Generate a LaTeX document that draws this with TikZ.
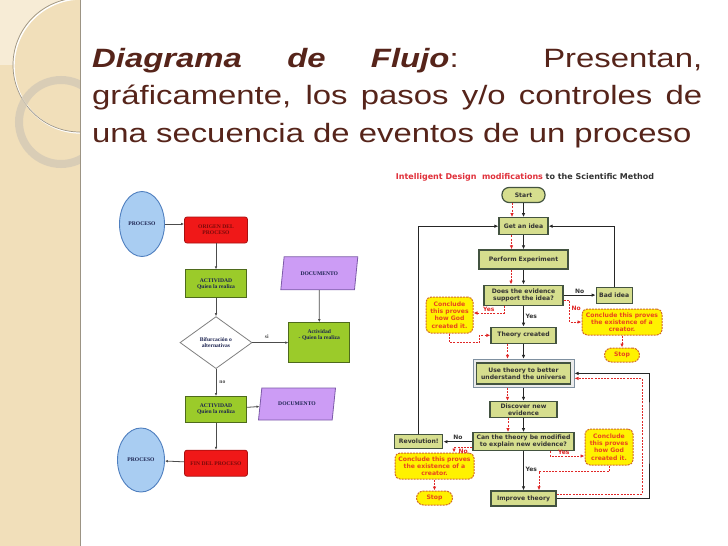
\documentclass[tikz,border=0pt]{standalone}
\usepackage{fontspec}
\newfontfamily\slidefont{Liberation Sans}[FakeStretch=1.24]
\newfontfamily\verdfont{DejaVu Sans}
\newfontfamily\leftfont{Liberation Serif}
\usetikzlibrary{arrows.meta, positioning, shapes.geometric}

\definecolor{stripbg}{HTML}{F1DFBA}
\definecolor{striplt}{HTML}{F7ECD6}
\definecolor{stripln}{HTML}{9C9484}
\definecolor{ringcol}{HTML}{D3C9B6}
\definecolor{titlecol}{HTML}{56241A}
\definecolor{procfill}{HTML}{A9CDF2}
\definecolor{procdraw}{HTML}{4F7FBF}
\definecolor{redfill}{HTML}{F01818}
\definecolor{reddraw}{HTML}{A81010}
\definecolor{redtext}{HTML}{7A0A0A}
\definecolor{actfill}{HTML}{9BCB2A}
\definecolor{actdraw}{HTML}{4E6A1C}
\definecolor{docfill}{HTML}{CC9CF5}
\definecolor{docdraw}{HTML}{7C5AA8}
\definecolor{lefttext}{HTML}{1C2350}
\definecolor{boxfill}{HTML}{D6DE8E}
\definecolor{boxdraw}{HTML}{435340}
\definecolor{boxtext}{HTML}{333333}
\definecolor{idred}{HTML}{E0303A}
\definecolor{ylfill}{HTML}{FFF200}
\definecolor{yldraw}{HTML}{D06828}
\definecolor{yltext}{HTML}{E8461E}
\definecolor{dashred}{HTML}{E02828}
\definecolor{usedraw}{HTML}{7F90A0}

\begin{document}
\begin{tikzpicture}[x=1pt, y=-1pt,
  % left chart
  lbase/.style={font=\leftfont\bfseries\fontsize{5.6}{6.2}\selectfont, text=lefttext,
                align=center, inner sep=1pt},
  proc/.style={lbase, ellipse, draw=procdraw, fill=procfill, line width=0.9pt},
  redbox/.style={lbase, draw=reddraw, fill=redfill, rounded corners=2.5pt,
                 line width=0.8pt, text=redtext},
  act/.style={lbase, draw=actdraw, fill=actfill, line width=0.8pt},
  doc/.style={lbase, trapezium, trapezium left angle=72, trapezium right angle=108,
              trapezium stretches=true, draw=docdraw, fill=docfill, line width=0.8pt},
  bifur/.style={lbase, diamond, draw=gray, fill=white, line width=0.8pt},
  larr/.style={-{Latex[length=3pt,width=2.6pt]}, line width=0.8pt, draw=black!70},
  % right chart
  gbox/.style={draw=boxdraw, fill=boxfill, line width=1.2pt, text=boxtext,
               font=\verdfont\bfseries\fontsize{6.1}{7.2}\selectfont,
               align=center, inner sep=1pt},
  term/.style={gbox, rounded corners=7pt},
  ybox/.style={draw=yldraw, fill=ylfill, dash pattern=on 2pt off 1pt, line width=1pt,
               rounded corners=5pt, text=yltext,
               font=\verdfont\bfseries\fontsize{6.1}{7.2}\selectfont,
               align=center, inner sep=1pt},
  stopbox/.style={ybox, rounded corners=7pt},
  blk/.style={-{Latex[length=4pt,width=3.5pt]}, line width=1pt, draw=black!85},
  rdash/.style={-{Latex[length=4pt,width=3.5pt]}, line width=0.8pt, draw=dashred,
                dash pattern=on 2pt off 1.2pt},
  yn/.style={font=\verdfont\bfseries\fontsize{6}{6}\selectfont, text=boxtext, inner sep=1.5pt},
  ynr/.style={yn, text=dashred}
]
\useasboundingbox (0,0) rectangle (728,546);
\fill[white] (0,0) rectangle (728,546);

% slide strip
\fill[stripbg] (0,0) rectangle (80,546);
\begin{scope}
  \clip (0,0) rectangle (80,546);
  \fill[striplt] (0,0) rectangle (80,65);
  \fill[stripbg] (80,65) circle[radius=67];
  \draw[white, line width=1.4pt] (81,66) circle[radius=67];
  \draw[stripln, line width=0.7pt] (80,65) circle[radius=67];
  \draw[ringcol, opacity=0.8, line width=8pt] (61,122) circle[radius=42];
\end{scope}
\draw[stripln, line width=1.5pt] (80.5,0) -- (80.5,546);

% slide title
\node[anchor=north west, inner sep=0pt, text width=610pt, align=justify, text=titlecol,
      font=\slidefont\fontsize{26.5}{37.5}\selectfont] (slidetitle) at (92,48)
  {\textbf{\textit{Diagrama de Flujo}}: Presentan,\linebreak
   gráficamente, los pasos y/o controles de\linebreak
   una secuencia de eventos de un proceso};

% left flowchart
\node[proc, minimum width=45, minimum height=65] (procA) at (142,224) {PROCESO};
\node[redbox, minimum width=63, minimum height=26] (origen) at (216,230) {ORIGEN DEL\\PROCESO};
\node[act, minimum width=61, minimum height=28, below=26pt of origen] (actA) {ACTIVIDAD\\Quien la realiza};
\node[bifur, minimum width=72, minimum height=52, below=18pt of actA] (bifurc) {Bifurcación o\\alternativas};
\node[act, minimum width=61, minimum height=40, right=36pt of bifurc] (actB) {Actividad\\- Quien la realiza\\[10pt]\mbox{}};
\node[doc, minimum width=77, minimum height=33, above=32pt of actB] (docA) {DOCUMENTO};
\node[act, minimum width=61, minimum height=26, below=27pt of bifurc] (actC) {ACTIVIDAD\\Quien la realiza};
\node[doc, minimum width=77, minimum height=32] (docB) at (297,404) {DOCUMENTO};
\node[redbox, minimum width=63, minimum height=26, below=27pt of actC] (fin) {FIN DEL PROCESO};
\node[proc, minimum width=47, minimum height=64] (procB) at (141,460) {PROCESO};

\draw[larr] (procA.east) -- (procA.east -| origen.west);
\draw[larr] (origen) -- (actA);
\draw[larr] (actA) -- (bifurc);
\draw[larr] (bifurc) -- node[lbase, above=3pt, pos=0.4, text=black!70] {si} (actB);
\draw[larr] (docA) -- (actB);
\draw[larr] (bifurc) -- node[lbase, right=2pt, text=black!70] {no} (actC);
\draw[larr] (actC) -- (docB);
\draw[larr] (actC) -- (fin);
\draw[larr] (fin) -- (procB);

% right flowchart
\node[font=\verdfont\bfseries\fontsize{8}{8}\selectfont, text=boxtext] (idtitle) at (525,177)
  {\textcolor{idred}{Intelligent Design\ \ modifications} to the Scientific Method};

\node[term, minimum width=43, minimum height=15] (start) at (523.5,195) {Start};
\node[gbox, minimum width=49, minimum height=17, below=14pt of start] (idea) {Get an idea};
\node[gbox, minimum width=89, minimum height=19, below=14pt of idea] (exper) {Perform Experiment};
\node[gbox, minimum width=79, minimum height=20, below=15pt of exper] (evid) {Does the evidence\\support the idea?};
\node[gbox, minimum width=36, minimum height=16, right=32pt of evid] (badidea) {Bad idea};
\node[gbox, minimum width=65, minimum height=16, below=21pt of evid] (created) {Theory created};
\node[gbox, minimum width=101, minimum height=28, draw=usedraw, line width=1pt,
      fill=black!8, below=15pt of created] (useout) {};
\node[gbox, minimum width=94, minimum height=21] (usetheory) at (useout) {Use theory to better\\understand the universe};
\node[gbox, minimum width=67, minimum height=16, below=13pt of useout] (discover) {Discover new\\evidence};
\node[gbox, minimum width=101, minimum height=18, below=14pt of discover] (modify) {Can the theory be modified\\to explain new evidence?};
\node[gbox, minimum width=48, minimum height=14, left=29pt of modify] (revol) {Revolution!};
\node[gbox, minimum width=65, minimum height=15, below=39pt of modify] (improve) {Improve theory};

\node[ybox, minimum width=47, minimum height=36] (godA) at (449.5,315) {Conclude\\this proves\\how God\\created it.};
\node[ybox, minimum width=80, minimum height=26] (creatorA) at (622,322) {Conclude this proves\\the existence of a\\creator.};
\node[stopbox, minimum width=35, minimum height=14, below=12pt of creatorA] (stopA) {Stop};
\node[ybox, minimum width=79, minimum height=26] (creatorB) at (434.5,466) {Conclude this proves\\the existence of a\\creator.};
\node[stopbox, minimum width=36, minimum height=14, below=11pt of creatorB] (stopB) {Stop};
\node[ybox, minimum width=48, minimum height=36] (godB) at (609,447) {Conclude\\this proves\\how God\\created it.};

\coordinate (loopblk) at (649,430);
\coordinate (loopred) at (642,430);

\draw[blk] (start) -- (idea);
\draw[rdash] ([xshift=-11.5pt]start.south) -- ([xshift=-11.5pt]idea.north);
\draw[blk] (idea) -- (exper);
\draw[rdash] ([xshift=-12pt]idea.south) -- ([xshift=-12pt]exper.north);
\draw[blk] (exper) -- (evid);
\draw[rdash] ([xshift=-12.5pt]exper.south) -- ([xshift=-12.5pt]evid.north);
\draw[blk] (evid) -- node[yn, right] {Yes} (created);
\draw[blk] (evid) -- node[yn, above] {No} (badidea);
\draw[blk] (badidea.north) |- (idea.east);
\draw[rdash] ([xshift=-19.5pt]evid.south) |- node[ynr, above, pos=0.75] {Yes} ([yshift=2pt]godA.east);
\draw[rdash] (godA.south) -- ++(0,9) -| ([xshift=-11pt]created.west) -- (created.west);
\draw[rdash] ([yshift=-5pt]evid.east) -- ++(6,0) |- node[ynr, right, pos=0.18] {No} (creatorA.west);
\draw[rdash] (creatorA) -- (stopA);
\draw[blk] (created) -- (useout);
\draw[rdash] ([xshift=-16pt]created.south) -- ([xshift=-16pt]useout.north);
\draw[blk] (useout) -- (discover);
\draw[rdash] ([xshift=-16pt]useout.south) -- ([xshift=-16pt]discover.north);
\draw[blk] (discover) -- (modify);
\draw[rdash] ([xshift=-15.5pt]discover.south) -- ([xshift=-15.5pt]modify.north);
\draw[blk] (modify) -- node[yn, above] {No} (revol);
\draw[blk] (revol.north) |- (idea.west);
\draw[rdash] ([yshift=-6pt]modify.west) -| node[ynr, below, pos=0.25] {No} ([xshift=19.5pt]creatorB.north);
\draw[rdash] (creatorB) -- (stopB);
\draw[blk] (modify) -- node[yn, right, pos=0.45] {Yes} (improve);
\draw[rdash] ([xshift=26.5pt]modify.south) |- node[ynr, above, pos=0.7] {Yes} ([yshift=-9pt]godB.west);
\draw[rdash] (godB.south) -- ++(0,6) -| ([xshift=15.5pt]improve.north);
\draw[blk] (improve.east) -| (loopblk) |- (useout.east);
\draw[rdash] ([yshift=4.5pt]improve.east) -| (loopred) |- ([yshift=-5pt]useout.east);

\end{tikzpicture}
\end{document}
